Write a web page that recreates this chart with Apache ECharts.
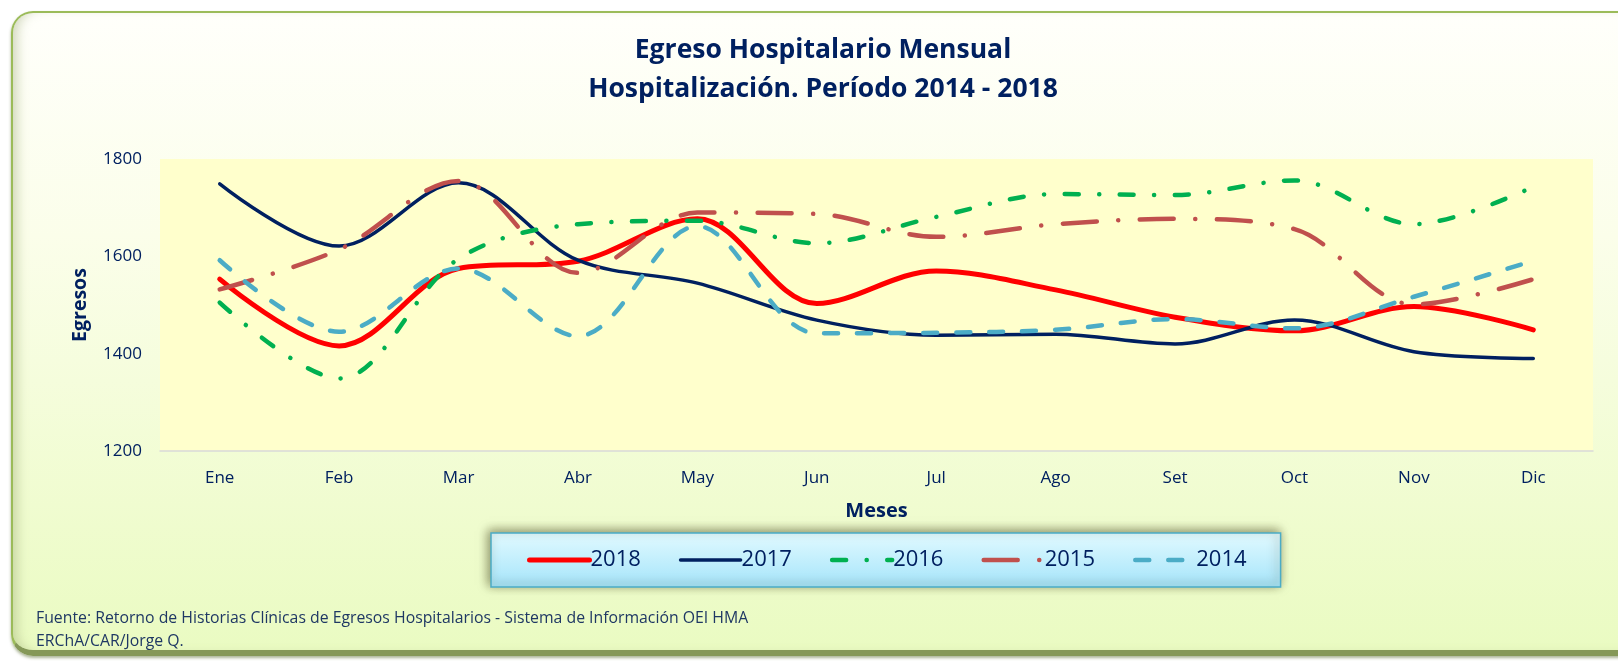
<!DOCTYPE html>
<html>
<head>
<meta charset="utf-8">
<script src="https://cdn.jsdelivr.net/npm/echarts@6/dist/echarts.min.js"></script>
<style>
  html, body { margin:0; padding:0; background:#ffffff; }
  #wrap { position:relative; width:1618px; height:664px; overflow:hidden; }
  #frame {
    position:absolute; left:11px; top:11px; width:1640px; height:637px;
    border-radius:22px; border:2px solid #9BBB59; border-bottom:6px solid #859858;
    background:linear-gradient(to bottom, #FFFFFB 0%, #FBFEEA 35%, #EAFBC2 100%);
    box-shadow: inset 10px 0 12px -6px rgba(150,165,110,0.45), 0 2px 3px rgba(90,110,50,0.5);
  }
  #chart { position:absolute; left:0; top:0; width:1618px; height:664px; }
</style>
</head>
<body>
<div id="wrap">
  <div id="frame"></div>
  <div id="chart"></div>
</div>
<script>
const months = ['Ene','Feb','Mar','Abr','May','Jun','Jul','Ago','Set','Oct','Nov','Dic'];
const y2018 = [1553, 1416, 1575, 1590, 1677, 1503, 1570, 1531, 1475, 1447, 1497, 1449];
const y2017 = [1749, 1621, 1751, 1592, 1545, 1469, 1438, 1440, 1420, 1469, 1404, 1390];
const y2016 = [1505, 1349, 1595, 1666, 1673, 1627, 1681, 1728, 1726, 1756, 1666, 1743];
const y2015 = [1532, 1614, 1755, 1566, 1690, 1687, 1640, 1666, 1677, 1656, 1501, 1553];
const y2014 = [1592, 1445, 1575, 1436, 1662, 1442, 1443, 1449, 1471, 1452, 1517, 1591];
const yTicks = { min: 1200, max: 1800, interval: 200 };

const titleLines = ['Egreso Hospitalario Mensual', 'Hospitalización. Período 2014 - 2018'];
const footLines = [
  'Fuente: Retorno de Historias Clínicas de Egresos Hospitalarios - Sistema de Información OEI HMA',
  'ERChA/CAR/Jorge Q.'
];

const navy = '#002060';
const font = '"Open Sans", Lato, sans-serif';

const styles = {
  '2018': { color: '#FF0000', width: 5, type: 'solid' },
  '2017': { color: '#002060', width: 3.5, type: 'solid' },
  '2016': { color: '#00B050', width: 4.5, type: [14, 20.5, 0.1, 20.5] },
  '2015': { color: '#C0504D', width: 4.5, type: [34, 21.5, 0.1, 21.5] },
  '2014': { color: '#4BACC6', width: 4.5, type: [14, 19] }
};
const seriesData = [['2018', y2018], ['2017', y2017], ['2016', y2016], ['2015', y2015], ['2014', y2014]];

const chart = echarts.init(document.getElementById('chart'), null, { renderer: 'canvas' });
chart.setOption({
  animation: false,
  backgroundColor: 'transparent',
  title: [{
    text: titleLines.join('\n'),
    left: 823, top: 31, textAlign: 'center', padding: 0,
    textStyle: { fontFamily: font, fontWeight: 'bold', fontSize: 26.5, lineHeight: 39, color: navy }
  }, {
    text: footLines.join('\n'),
    left: 36, top: 607, padding: 0,
    textStyle: { fontFamily: font, fontWeight: 'normal', fontSize: 15.8, lineHeight: 23, color: '#1F3864' }
  }],
  grid: {
    left: 160, right: 25, top: 159, bottom: 213,
    show: true, backgroundColor: '#FFFFCC', borderWidth: 0
  },
  legend: {
    left: 491, top: 533,
    padding: [16, 34, 16, 36],
    itemGap: 38, itemWidth: 60, itemHeight: 18,
    backgroundColor: {
      type: 'linear', x: 0, y: 0, x2: 0, y2: 1,
      colorStops: [{ offset: 0, color: '#E2FAFF' }, { offset: 1, color: '#A4E4FA' }]
    },
    borderColor: '#4BACC6', borderWidth: 1.5, borderRadius: 0,
    shadowBlur: 10, shadowColor: 'rgba(70,70,30,0.6)', shadowOffsetX: -2, shadowOffsetY: -2,
    itemStyle: { opacity: 0, color: 'transparent', borderWidth: 0 },
    textStyle: { fontFamily: font, fontSize: 22, color: navy, padding: [0, 0, 0, -4] },
    data: seriesData.map(function (s) {
      const st = styles[s[0]];
      return {
        name: s[0],
        itemStyle: { opacity: 0, color: 'transparent', borderWidth: 0 },
        lineStyle: { width: st.width, type: st.type, cap: 'round', color: st.color }
      };
    })
  },
  xAxis: {
    type: 'category', data: months, boundaryGap: true,
    name: 'Meses', nameLocation: 'middle', nameGap: 50,
    nameTextStyle: { fontFamily: font, fontWeight: 'bold', fontSize: 20, color: navy },
    axisLine: { show: true, lineStyle: { color: '#D9D9D9', width: 1.5 } },
    axisTick: { show: false },
    axisLabel: { fontFamily: font, fontSize: 17, color: navy, margin: 19 },
    splitLine: { show: false }
  },
  yAxis: {
    type: 'value', min: yTicks.min, max: yTicks.max, interval: yTicks.interval,
    name: 'Egresos', nameLocation: 'middle', nameGap: 70,
    nameTextStyle: { fontFamily: font, fontWeight: 'bold', fontSize: 19.5, color: navy },
    axisLine: { show: false }, axisTick: { show: false },
    axisLabel: { fontFamily: font, fontSize: 17, color: navy, margin: 18,
      formatter: function (v) { return String(v); } },
    splitLine: { show: false }
  },
  series: seriesData.map(function (s) {
    const st = styles[s[0]];
    return {
      name: s[0], type: 'line', data: s[1], smooth: 0.34, symbol: 'none',
      lineStyle: { color: st.color, width: st.width, type: st.type, cap: 'round', join: 'round' },
      itemStyle: { color: st.color }
    };
  })
});
</script>
</body>
</html>
